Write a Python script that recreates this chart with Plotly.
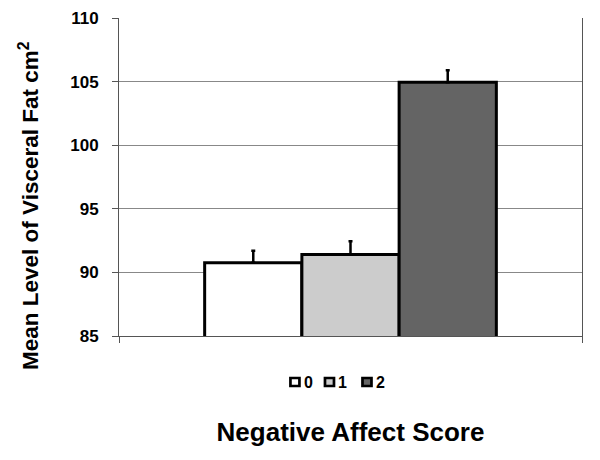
import plotly.graph_objects as go

groups = ["0", "1", "2"]
means = [90.75, 91.4, 104.95]
err_plus = [0.95, 1.05, 0.95]
colors = ["#ffffff", "#cccccc", "#646464"]
yticks = [85, 90, 95, 100, 105, 110]

# legend layout (paper coordinates)
legend_x = [0.380, 0.4546, 0.5356]
legend_y = -0.1447

fig = go.Figure()
for g, m, e, c in zip(groups, means, err_plus, colors):
    fig.add_trace(go.Bar(
        x=[0], y=[m], name=g, showlegend=False,
        marker=dict(color=c, line=dict(color="black", width=3)),
        error_y=dict(type="data", array=[e], arrayminus=[0], symmetric=False,
                     color="black", thickness=2.5, width=2),
    ))

bold = dict(family="Liberation Sans, Arial, sans-serif", color="black", weight="bold")

shapes = []
annotations = []
for g, c, lx in zip(groups, colors, legend_x):
    shapes.append(dict(type="rect", xref="paper", yref="paper",
                       xsizemode="pixel", ysizemode="pixel",
                       xanchor=lx, yanchor=legend_y,
                       x0=-4.5, x1=4.5, y0=-4, y1=4,
                       fillcolor=c, line=dict(color="black", width=2.7)))
    annotations.append(dict(text=g, xref="paper", yref="paper", x=lx, y=legend_y,
                            xanchor="left", yanchor="middle", xshift=7, showarrow=False,
                            font=dict(size=16, **bold)))

# y-axis title
annotations.append(dict(text="Mean Level of Visceral Fat cm<sup>2</sup>", xref="paper", yref="paper",
                        x=-0.1944, y=0.412, xanchor="center", yanchor="middle",
                        textangle=-90, showarrow=False, font=dict(size=22.5, **bold)))

fig.update_layout(
    width=600, height=460,
    margin=dict(l=119, r=18, t=18, b=124, autoexpand=False),
    paper_bgcolor="white", plot_bgcolor="white",
    barmode="group", bargap=0.37, bargroupgap=0,
    showlegend=False,
    shapes=shapes, annotations=annotations,
    xaxis=dict(range=[-0.5, 0.5], tickvals=[-0.5, 0.5], showticklabels=False,
               ticks="outside", ticklen=6, tickcolor="#555", showgrid=False,
               showline=True, linecolor="#555", linewidth=1, zeroline=False,
               automargin=False,
               title=dict(text="Negative Affect Score", font=dict(size=26, **bold), standoff=80)),
    yaxis=dict(range=[85, 110], tickvals=yticks, ticks="outside", ticklen=6,
               tickcolor="#555", showline=True, linecolor="#555", linewidth=1, mirror=True,
               showgrid=True, gridcolor="#888", gridwidth=1, zeroline=False,
               automargin=False,
               tickfont=dict(size=17, **bold), ticklabelstandoff=10),
)

fig.write_html("out.html", config={"displayModeBar": False},
               post_script="document.body.style.margin='0';document.body.style.overflow='hidden';")
